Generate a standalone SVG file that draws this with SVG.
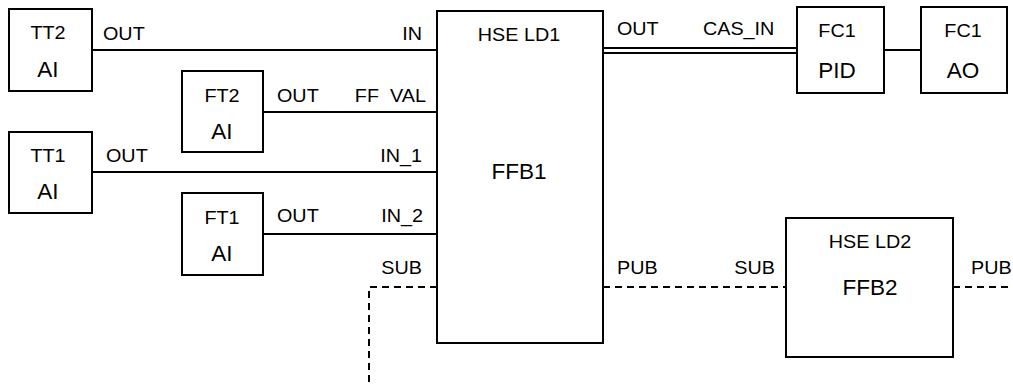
<svg xmlns="http://www.w3.org/2000/svg" width="1013" height="387" viewBox="0 0 1013 387">
<style>
.box{fill:#fff;stroke:#000;stroke-width:2}
.ln{fill:none;stroke:#000;stroke-width:2}
.dash{fill:none;stroke:#000;stroke-width:2;stroke-dasharray:7,5}
text{font-family:"Liberation Sans",Arial,sans-serif;fill:#000}
.s{font-size:17.5px;transform-box:fill-box;transform-origin:left center;transform:scaleX(1.13)}
.s.m{transform-origin:center}
.s.e{transform-origin:right center}
.b{font-size:22.5px}
.m{text-anchor:middle}
.e{text-anchor:end}
</style>
<rect width="1013" height="387" fill="#fff"/>
<g id="connectors">
<line class="ln" x1="92" y1="50" x2="437" y2="50"/>
<line class="ln" x1="263" y1="112" x2="437" y2="112"/>
<line class="ln" x1="92" y1="172" x2="437" y2="172"/>
<line class="ln" x1="263" y1="234" x2="437" y2="234"/>
<line class="ln" x1="603" y1="48" x2="797" y2="48"/>
<line class="ln" x1="603" y1="53" x2="797" y2="53"/>
<line class="ln" x1="884" y1="50" x2="921" y2="50"/>
<polyline class="dash" points="437,287 369,287 369,387"/>
<line class="dash" x1="603" y1="287" x2="786" y2="287"/>
<line class="dash" x1="953" y1="287" x2="1013" y2="287"/>
<text class="s" x="103" y="40">OUT</text>
<text class="s e" x="422" y="40">IN</text>
<text class="s" x="277" y="102">OUT</text>
<text class="s e" x="426" y="102" word-spacing="5">FF VAL</text>
<text class="s" x="106" y="162">OUT</text>
<text class="s e" x="422" y="162">IN_1</text>
<text class="s" x="277" y="222">OUT</text>
<text class="s e" x="423" y="222">IN_2</text>
<text class="s e" x="422" y="274">SUB</text>
<text class="s" x="617" y="35">OUT</text>
<text class="s" x="703" y="35">CAS_IN</text>
<text class="s" x="617" y="274">PUB</text>
<text class="s e" x="775" y="274">SUB</text>
<text class="s" x="971" y="274">PUB</text>
</g>
<g id="TT2">
<rect class="box" x="9" y="9" width="83" height="82"/>
<text class="s m" x="48" y="39">TT2</text>
<text class="b m" x="48" y="77">AI</text>
</g>
<g id="FT2">
<rect class="box" x="182" y="71" width="81" height="81"/>
<text class="s m" x="222" y="102">FT2</text>
<text class="b m" x="222" y="139">AI</text>
</g>
<g id="TT1">
<rect class="box" x="9" y="132" width="83" height="81"/>
<text class="s m" x="48" y="162">TT1</text>
<text class="b m" x="48" y="199">AI</text>
</g>
<g id="FT1">
<rect class="box" x="182" y="193" width="81" height="82"/>
<text class="s m" x="222" y="224">FT1</text>
<text class="b m" x="222" y="261">AI</text>
</g>
<g id="FFB1">
<rect class="box" x="437" y="11" width="166" height="332"/>
<text class="s m" x="519" y="41">HSE LD1</text>
<text class="b m" x="519" y="179">FFB1</text>
</g>
<g id="FC1_PID">
<rect class="box" x="797" y="7" width="87" height="86"/>
<text class="s m" x="837" y="37">FC1</text>
<text class="b m" x="837" y="78">PID</text>
</g>
<g id="FC1_AO">
<rect class="box" x="921" y="7" width="86" height="86"/>
<text class="s m" x="963" y="37">FC1</text>
<text class="b m" x="963" y="78">AO</text>
</g>
<g id="FFB2">
<rect class="box" x="786" y="218" width="167" height="139"/>
<text class="s m" x="870" y="248">HSE LD2</text>
<text class="b m" x="870" y="295">FFB2</text>
</g>
</svg>
